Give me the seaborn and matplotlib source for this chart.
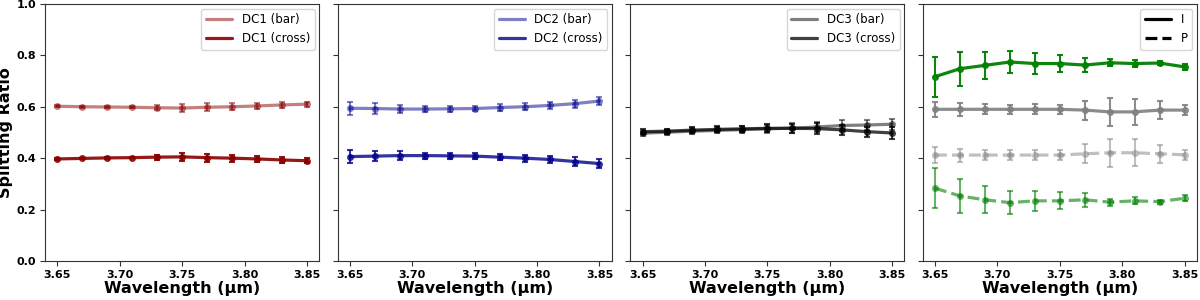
import matplotlib
matplotlib.use("Agg")
import matplotlib.pyplot as plt
import seaborn as sns
import pandas as pd
from matplotlib.lines import Line2D

wl = [3.65, 3.67, 3.69, 3.71, 3.73, 3.75, 3.77, 3.79, 3.81, 3.83, 3.85]

dc1_bar = [0.602, 0.600, 0.599, 0.598, 0.596, 0.595, 0.598, 0.600, 0.603, 0.607, 0.610]
dc1_cross = [0.397, 0.399, 0.401, 0.402, 0.404, 0.405, 0.402, 0.400, 0.397, 0.393, 0.390]
dc1_err = [0.003, 0.003, 0.003, 0.003, 0.010, 0.015, 0.015, 0.013, 0.012, 0.012, 0.010]

dc2_bar = [0.594, 0.593, 0.591, 0.591, 0.592, 0.593, 0.597, 0.600, 0.605, 0.612, 0.622]
dc2_cross = [0.406, 0.408, 0.410, 0.410, 0.409, 0.408, 0.404, 0.400, 0.395, 0.387, 0.379]
dc2_err = [0.025, 0.020, 0.016, 0.012, 0.012, 0.011, 0.012, 0.013, 0.014, 0.016, 0.017]

dc3_bar = [0.497, 0.501, 0.505, 0.508, 0.511, 0.514, 0.517, 0.521, 0.527, 0.529, 0.532]
dc3_cross = [0.503, 0.505, 0.509, 0.512, 0.514, 0.516, 0.516, 0.515, 0.510, 0.503, 0.498]
dc3_err = [0.010, 0.010, 0.011, 0.012, 0.013, 0.015, 0.018, 0.020, 0.020, 0.020, 0.022]

green_i = [0.717, 0.748, 0.761, 0.774, 0.768, 0.768, 0.762, 0.771, 0.768, 0.770, 0.755]
green_p = [0.283, 0.253, 0.238, 0.227, 0.234, 0.234, 0.238, 0.229, 0.234, 0.231, 0.244]
green_err = [0.078, 0.066, 0.053, 0.044, 0.040, 0.033, 0.027, 0.014, 0.014, 0.008, 0.012]

gray_i = [0.590, 0.590, 0.590, 0.590, 0.590, 0.590, 0.587, 0.580, 0.580, 0.587, 0.587]
gray_p = [0.412, 0.412, 0.412, 0.412, 0.412, 0.412, 0.417, 0.421, 0.421, 0.417, 0.413]
gray_err = [0.030, 0.025, 0.020, 0.018, 0.020, 0.018, 0.037, 0.055, 0.052, 0.035, 0.020]

sns.set_style("ticks")
plt.rcParams['font.family'] = ['DejaVu Sans']
plt.rcParams.update({"text.color": "black", "axes.labelcolor": "black",
                     "xtick.color": "#333333", "ytick.color": "#333333",
                     "xtick.labelcolor": "black", "ytick.labelcolor": "black"})


def draw(ax, y, err, color, alpha, ls="-"):
    df = pd.DataFrame({"wl": wl, "y": y})
    sns.lineplot(data=df, x="wl", y="y", ax=ax, color=color, alpha=alpha,
                 lw=2.3, linestyle=ls, marker="o", markersize=5,
                 markeredgewidth=0, legend=False)
    ax.errorbar(wl, y, yerr=err, fmt="none", ecolor=color, alpha=alpha,
                elinewidth=1.5, capsize=2, capthick=1.5)


def add_legend(ax, specs):
    handles = [Line2D([0], [0], color=c, alpha=a, lw=2.3, ls=ls) for c, a, ls, _ in specs]
    labels = [lab for _, _, _, lab in specs]
    ax.legend(handles, labels, loc="upper right", fontsize=8.5,
              handlelength=2.2, borderaxespad=0.4)


fig, axes = plt.subplots(1, 4, figsize=(12, 3), sharey=True)
fig.subplots_adjust(left=0.0375, right=0.9975, bottom=0.13, top=0.987, wspace=0.066)

draw(axes[0], dc1_bar, dc1_err, "darkred", 0.5)
draw(axes[0], dc1_cross, dc1_err, "darkred", 0.9)
add_legend(axes[0], [("darkred", 0.5, "-", "DC1 (bar)"), ("darkred", 0.9, "-", "DC1 (cross)")])

draw(axes[1], dc2_bar, dc2_err, "darkblue", 0.5)
draw(axes[1], dc2_cross, dc2_err, "darkblue", 0.8)
add_legend(axes[1], [("darkblue", 0.5, "-", "DC2 (bar)"), ("darkblue", 0.8, "-", "DC2 (cross)")])

draw(axes[2], dc3_bar, dc3_err, "black", 0.5)
draw(axes[2], dc3_cross, dc3_err, "black", 0.75)
add_legend(axes[2], [("black", 0.5, "-", "DC3 (bar)"), ("black", 0.75, "-", "DC3 (cross)")])

draw(axes[3], green_i, green_err, "green", 0.95)
draw(axes[3], gray_i, gray_err, "gray", 0.9)
draw(axes[3], gray_p, gray_err, "gray", 0.5, ls="--")
draw(axes[3], green_p, green_err, "green", 0.6, ls="--")
add_legend(axes[3], [("black", 1.0, "-", "I"), ("black", 1.0, "--", "P")])

for ax in axes:
    ax.set_ylim(0, 1.0)
    ax.set_xlim(3.64, 3.86)
    ax.set_xticks([3.65, 3.70, 3.75, 3.80, 3.85])
    ax.set_xlabel("Wavelength (µm)", fontsize=11.5, fontweight="bold", labelpad=1)
    ax.set_ylabel("")
    ax.tick_params(labelsize=8, pad=3)
    for t in ax.get_xticklabels() + ax.get_yticklabels():
        t.set_fontweight("bold")
    for s in ax.spines.values():
        s.set_visible(True)
        s.set_color("#333333")

axes[0].set_ylabel("Splitting Ratio", fontsize=11.5, fontweight="bold", labelpad=2)
axes[0].set_yticks([0.0, 0.2, 0.4, 0.6, 0.8, 1.0])

fig.savefig("out.png", dpi=100)
